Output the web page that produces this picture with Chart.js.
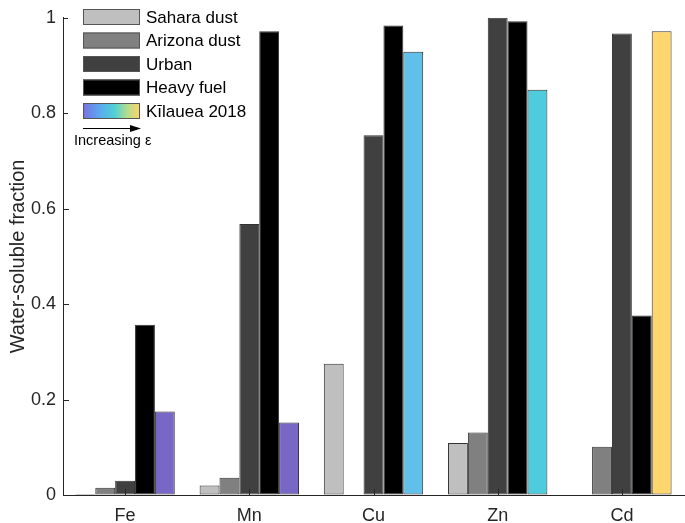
<!DOCTYPE html>
<html>
<head>
<meta charset="utf-8">
<script src="https://cdn.jsdelivr.net/npm/chart.js@4/dist/chart.umd.min.js"></script>
<style>
  html, body { margin: 0; padding: 0; background: #fff; }
  #wrap { width: 685px; height: 523px; }
</style>
</head>
<body>
<div id="wrap"><canvas id="chart" width="685" height="523"></canvas></div>
<script>
// Data
const elements = ['Fe', 'Mn', 'Cu', 'Zn', 'Cd'];
const saharaDust = [0.002, 0.020, 0.275, 0.109, null];
const arizonaDust = [0.015, 0.036, null, 0.131, 0.101];
const urban = [0.030, 0.568, 0.754, 1.000, 0.967];
const heavyFuel = [0.357, 0.972, 0.984, 0.993, 0.376];
const kilauea = [0.175, 0.152, 0.929, 0.849, 0.972];
const yTicks = [0, 0.2, 0.4, 0.6, 0.8, 1];

// Kilauea bar colours (colour scale by epsilon)
const kilaueaColors = ['#7867c4', '#7867c4', '#60c0ea', '#4ecbdc', '#ffd66e'];
const textColor = '#262626';
const edge = '#333333';

// Legend drawn over the bars, with an epsilon arrow under it
const legendPlugin = {
    id: 'figLegend',
    afterDatasetsDraw(chart) {
        const ctx = chart.ctx;
        const x = chart.scales.x, y = chart.scales.y;
        const area = chart.chartArea;

        // inward tick marks, MATLAB style
        ctx.save();
        ctx.strokeStyle = textColor;
        ctx.lineWidth = 1;
        ctx.beginPath();
        yTicks.forEach(v => {
            const py = Math.round(y.getPixelForValue(v)) + 0.5;
            ctx.moveTo(area.left, py);
            ctx.lineTo(area.left + 6, py);
        });
        elements.forEach((e, i) => {
            const px = Math.round(x.getPixelForValue(i)) + 0.5;
            ctx.moveTo(px, area.bottom);
            ctx.lineTo(px, area.bottom - 6);
        });
        ctx.stroke();

        // legend box
        ctx.fillStyle = '#fff';
        ctx.fillRect(68, 0, 181, 152);
        const rows = chart.data.datasets;
        ctx.font = '17px "Liberation Sans", Arial, sans-serif';
        ctx.textBaseline = 'middle';
        rows.forEach((ds, i) => {
            const cy = 17 + i * 23.5;
            let fill = ds.backgroundColor;
            if (Array.isArray(fill)) {
                const g = ctx.createLinearGradient(83, 0, 140, 0);
                g.addColorStop(0, '#7b6fe0');
                g.addColorStop(0.3, '#5aaaf0');
                g.addColorStop(0.55, '#4fd0d6');
                g.addColorStop(0.78, '#b5dc8c');
                g.addColorStop(1, '#ffd56a');
                fill = g;
            }
            ctx.fillStyle = fill;
            ctx.fillRect(83, cy - 8, 57, 16);
            ctx.strokeStyle = '#555';
            ctx.strokeRect(83.5, cy - 7.5, 56, 15);
            ctx.fillStyle = '#000';
            ctx.fillText(ds.label, 146, cy + 1);
        });

        // arrow
        ctx.strokeStyle = '#000';
        ctx.beginPath();
        ctx.moveTo(83, 128.5);
        ctx.lineTo(132, 128.5);
        ctx.stroke();
        ctx.fillStyle = '#000';
        ctx.beginPath();
        ctx.moveTo(141, 128.5);
        ctx.lineTo(130, 125);
        ctx.lineTo(130, 132);
        ctx.closePath();
        ctx.fill();
        ctx.font = '14.5px "Liberation Sans", Arial, sans-serif';
        ctx.fillText('Increasing ε', 74, 141);
        ctx.restore();
    }
};

function barSet(label, data, color) {
    return {
        label,
        data,
        backgroundColor: color,
        borderColor: edge,
        borderWidth: 1,
        borderSkipped: false,
        categoryPercentage: 0.8,
        barPercentage: 1.0
    };
}

new Chart(document.getElementById('chart'), {
    type: 'bar',
    data: {
        labels: elements,
        datasets: [
            barSet('Sahara dust', saharaDust, '#bfbfbf'),
            barSet('Arizona dust', arizonaDust, '#808080'),
            barSet('Urban', urban, '#404040'),
            barSet('Heavy fuel', heavyFuel, '#000000'),
            barSet('Kīlauea 2018', kilauea, kilaueaColors)
        ]
    },
    options: {
        responsive: false,
        animation: false,
        layout: { padding: { top: 6, right: 1, left: 0, bottom: 0 } },
        plugins: {
            legend: { display: false },
            tooltip: { enabled: false }
        },
        scales: {
            x: {
                grid: { drawOnChartArea: false, drawTicks: false },
                border: { display: true, color: textColor, width: 1 },
                ticks: {
                    color: textColor,
                    padding: 10,
                    font: { family: '"Liberation Sans", Arial, sans-serif', size: 18 }
                },
                afterFit(s) { s.height = 28; }
            },
            y: {
                min: 0,
                max: 1,
                grid: { drawOnChartArea: false, drawTicks: false },
                border: { display: true, color: textColor, width: 1 },
                afterBuildTicks(s) { s.ticks = yTicks.map(v => ({ value: v })); },
                ticks: {
                    color: textColor,
                    padding: 7,
                    font: { family: '"Liberation Sans", Arial, sans-serif', size: 18 },
                    callback: v => String(v)
                },
                title: {
                    display: true,
                    text: 'Water-soluble fraction',
                    color: textColor,
                    padding: { top: 6, bottom: 0 },
                    font: { family: '"Liberation Sans", Arial, sans-serif', size: 20 }
                },
                afterFit(s) { s.width = 63; }
            }
        }
    },
    plugins: [legendPlugin]
});
</script>
</body>
</html>
